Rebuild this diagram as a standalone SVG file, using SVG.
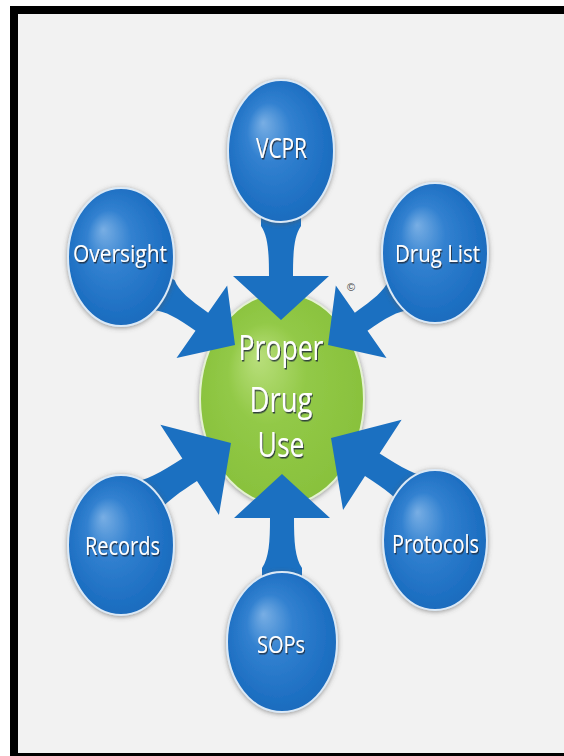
<svg xmlns="http://www.w3.org/2000/svg" width="564" height="756" viewBox="0 0 564 756">
<defs>
<radialGradient id="blueGrad" cx="0.5" cy="0.5" r="0.6" fx="0.33" fy="0.3">
<stop offset="0" stop-color="#78aee4"/>
<stop offset="0.35" stop-color="#3281d0"/>
<stop offset="0.75" stop-color="#1f70c3"/>
<stop offset="1" stop-color="#1b68b8"/>
</radialGradient>
<radialGradient id="greenGrad" cx="0.5" cy="0.5" r="0.6" fx="0.35" fy="0.3">
<stop offset="0" stop-color="#b9df7c"/>
<stop offset="0.4" stop-color="#92c947"/>
<stop offset="1" stop-color="#86bf3a"/>
</radialGradient>
<filter id="halo" x="-20%" y="-20%" width="140%" height="140%">
<feDropShadow dx="0" dy="1" stdDeviation="2.5" flood-color="#555" flood-opacity="0.6"/>
</filter>
<filter id="txtShadow" x="-10%" y="-20%" width="120%" height="150%">
<feDropShadow dx="1" dy="1.5" stdDeviation="0.7" flood-color="#1a2a3a" flood-opacity="0.85"/>
</filter>
<path id="arrow" d="M0,0 L-44,-48 L-44,-12 C-68,-12 -84,-13 -94,-20 L-135,-20 L-135,20 L-94,20 C-84,13 -68,12 -44,12 L-44,48 Z"/>
<style>
.sat{fill:url(#blueGrad);stroke:#dbe9f6;stroke-width:2;filter:url(#halo)}
.hub{fill:url(#greenGrad);stroke:#e4f1d2;stroke-width:2;filter:url(#halo)}
.lbl{font-family:"Open Sans","Liberation Sans",sans-serif;fill:#ffffff;text-anchor:middle;filter:url(#txtShadow)}
.arr{fill:#1b70c1}
</style>
</defs>
<rect x="0" y="0" width="564" height="756" fill="#ffffff"/>
<rect x="10" y="6" width="554" height="750" fill="#000000"/>
<rect x="18" y="14" width="546" height="739" fill="#f2f2f2"/>

<g id="center">
<ellipse class="hub" cx="282" cy="399" rx="82" ry="106"/>
<text class="lbl" x="281" y="360" font-size="35" textLength="85" lengthAdjust="spacingAndGlyphs">Proper</text>
<text class="lbl" x="281" y="412" font-size="35" textLength="63" lengthAdjust="spacingAndGlyphs">Drug</text>
<text class="lbl" x="281" y="457" font-size="35" textLength="47" lengthAdjust="spacingAndGlyphs">Use</text>
</g>

<g id="connectors">
<use href="#arrow" class="arr" transform="translate(281,320) rotate(90)"/>
<use href="#arrow" class="arr" transform="translate(282,474) rotate(-90)"/>
<use href="#arrow" class="arr" transform="translate(235,345) rotate(35) scale(0.92)"/>
<use href="#arrow" class="arr" transform="translate(328,345) rotate(145) scale(0.92)"/>
<use href="#arrow" class="arr" transform="translate(231,443) rotate(-33) scale(1.12)"/>
<use href="#arrow" class="arr" transform="translate(331,438) rotate(-147) scale(1.12)"/>
</g>

<g id="vcpr">
<ellipse class="sat" cx="281" cy="151" rx="53" ry="71"/>
<text class="lbl" x="281.5" y="158" font-size="28" textLength="51" lengthAdjust="spacingAndGlyphs">VCPR</text>
</g>
<g id="oversight">
<ellipse class="sat" cx="121" cy="257" rx="53" ry="69"/>
<text class="lbl" x="120" y="262" font-size="24" textLength="94" lengthAdjust="spacingAndGlyphs">Oversight</text>
</g>
<g id="druglist">
<ellipse class="sat" cx="435" cy="253" rx="53" ry="70"/>
<text class="lbl" x="437.5" y="262" font-size="24" textLength="85" lengthAdjust="spacingAndGlyphs">Drug List</text>
</g>
<g id="records">
<ellipse class="sat" cx="121" cy="545" rx="53" ry="70"/>
<text class="lbl" x="122.5" y="555" font-size="26" textLength="75" lengthAdjust="spacingAndGlyphs">Records</text>
</g>
<g id="protocols">
<ellipse class="sat" cx="435" cy="540" rx="52" ry="70"/>
<text class="lbl" x="435.5" y="553" font-size="26" textLength="87" lengthAdjust="spacingAndGlyphs">Protocols</text>
</g>
<g id="sops">
<ellipse class="sat" cx="282" cy="642" rx="55" ry="70"/>
<text class="lbl" x="281" y="653" font-size="24" textLength="48" lengthAdjust="spacingAndGlyphs">SOPs</text>
</g>

<text x="351" y="291" font-family="Liberation Sans, sans-serif" font-size="11" fill="#444444" text-anchor="middle">©</text>
</svg>
